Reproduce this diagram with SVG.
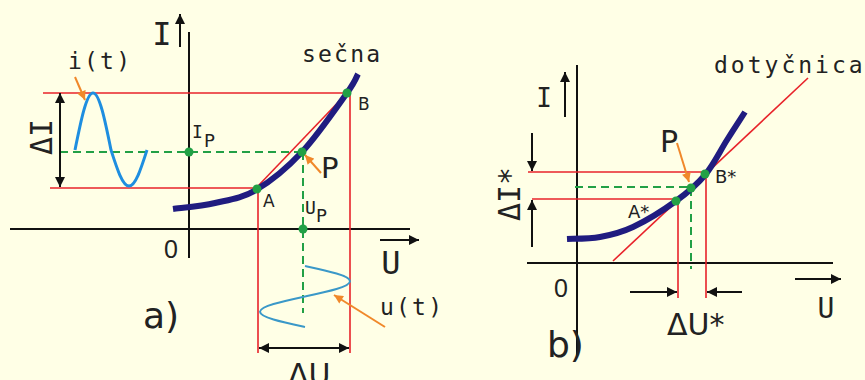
<svg xmlns="http://www.w3.org/2000/svg" width="865" height="380" viewBox="0 0 865 380">
<defs>
<marker id="ab" viewBox="0 0 10 10" refX="10" refY="5" markerWidth="11" markerHeight="10" markerUnits="userSpaceOnUse" orient="auto-start-reverse"><path d="M0,0 L10,5 L0,10 z" fill="#111"/></marker>
<marker id="ao" viewBox="0 0 10 10" refX="10" refY="5" markerWidth="10" markerHeight="9" markerUnits="userSpaceOnUse" orient="auto"><path d="M0,0 L10,5 L0,10 z" fill="#f0882a"/></marker>
<style>
.axis{stroke:#111;stroke-width:2;fill:none}
.red{stroke:#e8232a;stroke-width:1.6;fill:none}
.grn{stroke:#22a045;stroke-width:2;stroke-dasharray:8 5;fill:none}
.curve{stroke:#201c80;stroke-width:6;fill:none}
.dot{fill:#22a045}
.isig{stroke:#1e8ee0;stroke-width:3;fill:none}
.usig{stroke:#3a98c8;stroke-width:2;fill:none}
.org{stroke:#f0882a;stroke-width:2;fill:none;marker-end:url(#ao)}
.arr{stroke:#111;stroke-width:2;fill:none;marker-end:url(#ab)}
.dbl{stroke:#111;stroke-width:2;fill:none;marker-start:url(#ab);marker-end:url(#ab)}
.mono{font-family:"DejaVu Sans Mono",monospace;fill:#222}
.word{font-family:"DejaVu Sans Mono",monospace;fill:#222;font-size:23px}
.sans{font-family:"DejaVu Sans",sans-serif;fill:#222}
.num{font-family:"Liberation Sans",sans-serif;fill:#222}
</style>
</defs>
<rect width="865" height="380" fill="#ffffe6"/>

<g id="diagram-a">
  <g id="a-axes">
    <path class="axis" d="M189,32 V258"/>
    <path class="axis" d="M10,229 H410"/>
    <path class="arr" d="M180,47 V14"/>
    <path class="arr" d="M380,240 H419"/>
    <text class="mono" x="162" y="45" font-size="32" text-anchor="middle">I</text>
    <text class="mono" x="391" y="274" font-size="32" text-anchor="middle">U</text>
    <text class="num" x="171" y="258" font-size="25" text-anchor="middle">0</text>
    <text class="sans" x="143" y="328" font-size="36">a)</text>
  </g>
  <g id="a-lines">
    <path class="red" d="M43,93 H350"/>
    <path class="red" d="M50,188 H258"/>
    <path class="red" d="M258,186 L347,93"/>
    <path class="red" d="M258,188 V353"/>
    <path class="red" d="M350,93 V353"/>
    <path class="grn" d="M60,152 H302"/>
    <path class="grn" d="M303,152 V313"/>
    <path class="dbl" d="M60,93 V187"/>
    <path class="dbl" d="M259,348 H349"/>
  </g>
  <path id="a-curve" class="curve" d="M173,209 C180,208 201.2,206.2 215,203 C228.8,199.8 241.5,198.5 256,190 C270.5,181.5 286.8,168.2 302,152 C317.2,135.8 337.7,106 347,93 C356.3,80 356.2,77.2 358,74"/>
  <path id="i-t" class="isig" d="M75,150 C80.9,120.8 86.5,93 93,93 C99.5,93 105.1,120.8 111,150 C116.9,168.4 122.5,186 129,186 C135.5,186 141.1,168.4 147,150"/>
  <path id="u-t" class="usig" d="M305,266 C328,271 350,275.7 350,281.25 C350,286.8 328,291.5 305,296.5 C282,301.5 260,306.2 260,311.75 C260,317.3 282,322 305,327"/>
  <g id="a-points">
    <circle class="dot" cx="189" cy="152" r="4.5"/>
    <circle class="dot" cx="302" cy="152" r="4.5"/>
    <circle class="dot" cx="257" cy="189" r="4.5"/>
    <circle class="dot" cx="347" cy="93" r="4.5"/>
    <circle class="dot" cx="303" cy="229" r="4.5"/>
  </g>
  <g id="a-pointers">
    <path class="org" d="M75,77 L85,100"/>
    <path class="org" d="M321,173 L305,155"/>
    <path class="org" d="M385,327 L334,295"/>
  </g>
  <g id="a-labels">
    <text class="word" x="68" y="69" letter-spacing="2.2">i(t)</text>
    <text class="word" x="302" y="62" letter-spacing="2.2">sečna</text>
    <text class="word" x="380" y="315" letter-spacing="2.2">u(t)</text>
    <text class="mono" x="192" y="138" font-size="18">I</text>
    <text class="sans" x="204" y="147" font-size="18">P</text>
    <text class="mono" x="305" y="214" font-size="18">U</text>
    <text class="sans" x="316" y="222" font-size="18">P</text>
    <text class="sans" x="321" y="178" font-size="29">P</text>
    <text class="sans" x="263" y="207" font-size="17">A</text>
    <text class="sans" x="358" y="110" font-size="17">B</text>
    <text class="mono" transform="translate(52,137) rotate(-90)" font-size="30" text-anchor="middle">ΔI</text>
    <text class="sans" x="288" y="385" font-size="30">ΔU</text>
  </g>
</g>

<g id="diagram-b">
  <g id="b-axes">
    <path class="axis" d="M577,65 V357"/>
    <path class="axis" d="M527,263 H833"/>
    <path class="arr" d="M565,117 V72"/>
    <path class="arr" d="M795,279 H841"/>
    <text class="mono" x="544" y="107" font-size="26" text-anchor="middle">I</text>
    <text class="mono" x="826" y="318" font-size="28" text-anchor="middle">U</text>
    <text class="num" x="561" y="297" font-size="25" text-anchor="middle">0</text>
    <text class="sans" x="547" y="357" font-size="36">b)</text>
  </g>
  <g id="b-lines">
    <path class="red" d="M613,261 L808,78"/>
    <path class="red" d="M528,172 H706"/>
    <path class="red" d="M532,199 H678"/>
    <path class="red" d="M678,201 V298"/>
    <path class="red" d="M706,174 V298"/>
    <path class="grn" d="M575,187 H691"/>
    <path class="grn" d="M691,188 V269"/>
    <path class="arr" d="M630,292 H677"/>
    <path class="arr" d="M742,292 H707"/>
    <path class="arr" d="M532,133 V171"/>
    <path class="arr" d="M532,247 V200"/>
  </g>
  <path id="b-curve" class="curve" d="M567,239 C572.5,238.7 589,239 600,237 C611,235 620.3,233 633,227 C645.7,221 664,209.7 676,201 C688,192.3 696.5,185.2 705,175 C713.5,164.8 720.3,150.5 727,140 C733.7,129.5 742,116.7 745,112"/>
  <g id="b-points">
    <circle class="dot" cx="676" cy="201" r="4.5"/>
    <circle class="dot" cx="691" cy="188" r="4.5"/>
    <circle class="dot" cx="705" cy="174" r="4.5"/>
  </g>
  <path id="b-pointer" class="org" d="M677,143 L689,182"/>
  <g id="b-labels">
    <text class="word" x="714" y="73" letter-spacing="3">dotyčnica</text>
    <text class="sans" x="660" y="152" font-size="30">P</text>
    <text class="sans" x="628" y="218" font-size="18">A*</text>
    <text class="sans" x="715" y="183" font-size="18">B*</text>
    <text class="mono" transform="translate(520,194) rotate(-90)" font-size="30" text-anchor="middle">ΔI*</text>
    <text class="sans" x="667" y="335" font-size="30">ΔU*</text>
  </g>
</g>
</svg>
